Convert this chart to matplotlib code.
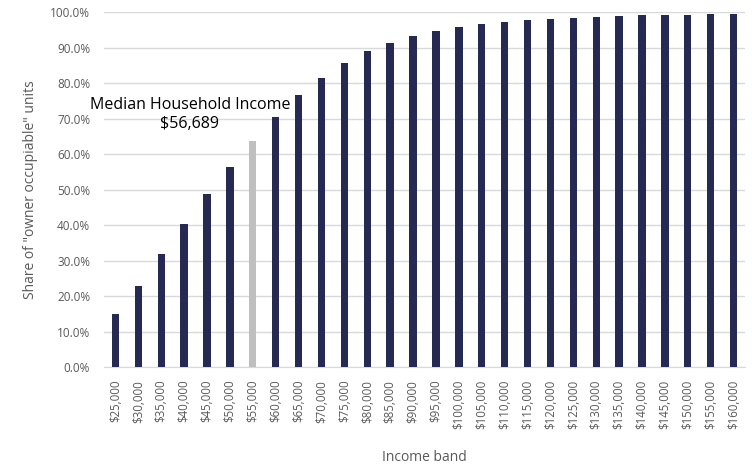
import matplotlib.pyplot as plt
from matplotlib.ticker import PercentFormatter

# data
INCOME_BANDS = ["$25,000", "$30,000", "$35,000", "$40,000", "$45,000", "$50,000",
                "$55,000", "$60,000", "$65,000", "$70,000", "$75,000", "$80,000",
                "$85,000", "$90,000", "$95,000", "$100,000", "$105,000", "$110,000",
                "$115,000", "$120,000", "$125,000", "$130,000", "$135,000", "$140,000",
                "$145,000", "$150,000", "$155,000", "$160,000"]
SHARE = [15.1, 22.9, 31.9, 40.5, 48.9, 56.3, 63.7, 70.5, 76.6, 81.6, 85.8, 89.0,
         91.4, 93.3, 94.7, 95.9, 96.7, 97.4, 97.8, 98.2, 98.5, 98.7, 99.0, 99.2,
         99.2, 99.3, 99.4, 99.4]
MEDIAN_BAND = "$55,000"
MEDIAN_LABEL = "Median Household Income\n$56,689"

NAVY = "#262952"
GREY_BAR = "#BFBFBF"
TEXT_GREY = "#595959"
GRID = "#D9D9D9"

plt.rcParams['font.family'] = ['Open Sans', 'DejaVu Sans']

fig = plt.figure(figsize=(7.52, 4.66), dpi=100)
ax = fig.add_axes([104 / 752, 1 - 367.3 / 466, 641 / 752, 355 / 466])

colors = [GREY_BAR if b == MEDIAN_BAND else NAVY for b in INCOME_BANDS]
x = range(len(INCOME_BANDS))
ax.bar(x, SHARE, width=0.32, color=colors, zorder=3)

ax.set_xlim(-0.5, len(INCOME_BANDS) - 0.5)
ax.set_ylim(0, 100)
ax.set_yticks(range(0, 101, 10))
ax.yaxis.set_major_formatter(PercentFormatter(decimals=1))
ax.set_xticks(list(x))
ax.set_xticklabels(INCOME_BANDS, rotation=90)
ax.tick_params(axis='x', length=0, labelsize=8.3, colors=TEXT_GREY, pad=9)
ax.tick_params(axis='y', length=0, labelsize=8.5, colors=TEXT_GREY, pad=10)

ax.grid(axis='y', color=GRID, linewidth=1, zorder=0)
for s in ax.spines.values():
    s.set_visible(False)
ax.spines['bottom'].set_visible(True)
ax.spines['bottom'].set_color(GRID)

ax.set_xlabel("Income band", fontsize=10, color=TEXT_GREY, labelpad=15)
ax.set_ylabel('Share of "owner occupiable" units', fontsize=10, color=TEXT_GREY, labelpad=9)

mi = INCOME_BANDS.index(MEDIAN_BAND)
ax.text(mi - 2.75, 71.3, MEDIAN_LABEL, ha='center', va='center', fontsize=11.5,
        color='black', linespacing=1.25)

fig.savefig("out.png", dpi=100)
